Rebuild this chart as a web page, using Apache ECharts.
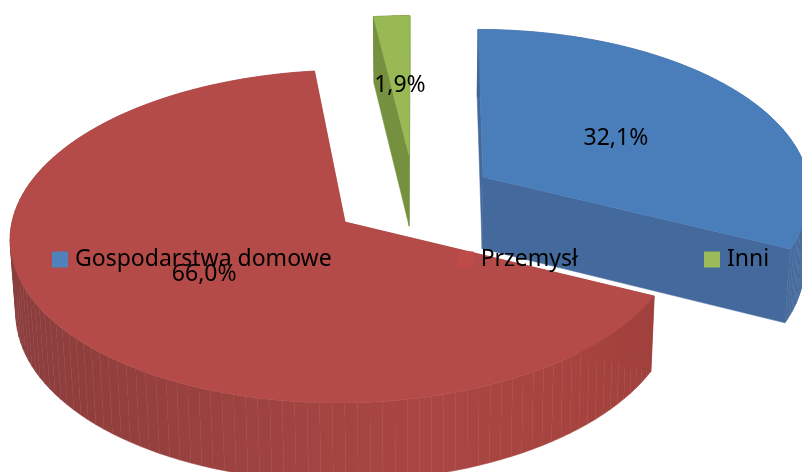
<!DOCTYPE html>
<html>
<head>
<meta charset="utf-8">
<style>html,body{margin:0;padding:0;background:#fff}#c{width:802px;height:472px}</style>
<script src="https://cdn.jsdelivr.net/npm/echarts@6/dist/echarts.min.js"></script>
</head>
<body>
<div id="c"></div>
<script>
const categories = ['Gospodarstwa domowe', 'Przemysł', 'Inni'];
const shares = [32.1, 66.0, 1.9];
const labels = ['32,1%', '66,0%', '1,9%'];
const legendColors = ['#4F81BD', '#BE4B48', '#9BBB59'];
const topColors = ['#4A7EBB', '#B54B48', '#98B954'];
const cutColors = ['#44699C', '#A0433F', '#75903F'];
const sliceViews = [
  { ax: 483, ay: 177, f: 325, g: 165, vy: 230 },
  { ax: 345, ay: 222, f: 333, g: 165, vy: 220 },
  { ax: 409, ay: 155, f: 333, g: 158, vy: 230 }
];
const rimStops = [
  [[0, '#3F6290'], [1, '#44699C']],
  [[0, '#8A3E3C'], [0.15, '#923F3D'], [0.4, '#9F4340'], [0.65, '#AA4643'], [0.85, '#A8443F'], [1, '#A0403C']],
  [[0, '#75903F'], [1, '#75903F']]
];
const K = 0.087, VX = 420, TOTAL = shares.reduce((a, b) => a + b, 0);

function project(v, rho, theta) {
  const X = rho * Math.sin(theta), Y = rho * Math.cos(theta), d = 1 + K * Y;
  return [VX + (v.ax - VX + v.f * X) / d, v.vy + (v.ay - v.vy - v.g * Y) / d];
}
function drop(p) {
  return [VX + (p[0] - VX) * 0.986, p[1] + 66.5 + 0.03 * p[1]];
}
function renderSlice(i) {
  return function (params, api) {
    const val = api.value(0);
    const before = shares.slice(0, i).reduce((a, b) => a + b, 0);
    const a0 = before / TOTAL * 2 * Math.PI, a1 = a0 + val / TOTAL * 2 * Math.PI;
    const v = sliceViews[i];
    const rim = [];
    const n = 120;
    for (let s = 0; s <= n; s++) rim.push(project(v, 1, a0 + (a1 - a0) * s / n));
    const apex = project(v, 0, 0);
    const rimFirst = rim[0], rimLast = rim[n];
    const xs = rim.map(p => p[0]);
    const grad = new echarts.graphic.LinearGradient(Math.min.apply(null, xs), 0, Math.max.apply(null, xs), 0,
      rimStops[i].map(s => ({ offset: s[0], color: s[1] })), true);
    const lp = project(v, 0.5, (a0 + a1) / 2);
    const poly = (points, fill) => ({ type: 'polygon', shape: { points }, style: { fill, stroke: fill, lineWidth: 0.5 } });
    const walls = [];
    for (let s = 0; s < n; s++) walls.push(poly([rim[s], rim[s + 1], drop(rim[s + 1]), drop(rim[s])], grad));
    return {
      type: 'group',
      children: [
        poly([rimFirst, apex, drop(apex), drop(rimFirst)], cutColors[i]),
        poly([rimLast, apex, drop(apex), drop(rimLast)], cutColors[i])
      ].concat(walls, [
        poly([apex].concat(rim), topColors[i]),
        { type: 'text', z2: 10, style: { x: lp[0], y: lp[1] + 3, text: labels[i], fill: '#000',
            font: '23px "Noto Sans"', textAlign: 'center', textVerticalAlign: 'middle' } }
      ])
    };
  };
}
const chart = echarts.init(document.getElementById('c'), null, { renderer: 'canvas' });
chart.setOption({
  animation: false,
  backgroundColor: '#fff',
  legend: {
    left: 47, top: 243, itemWidth: 16, itemHeight: 16, itemGap: 126, icon: 'rect', z: 20,
    data: categories,
    textStyle: { fontFamily: 'Noto Sans', fontSize: 23, color: '#000', padding: [0, 0, 0, 2] }
  },
  series: categories.map((name, i) => ({
    type: 'custom', name, coordinateSystem: 'none', silent: true,
    itemStyle: { color: legendColors[i] },
    data: [[shares[i]]],
    renderItem: renderSlice(i)
  }))
});
</script>
</body>
</html>
